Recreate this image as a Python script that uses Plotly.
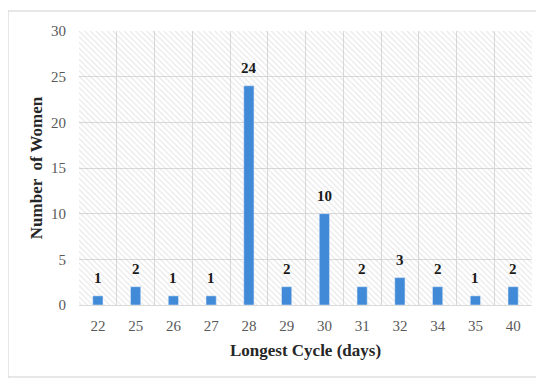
import plotly.graph_objects as go

categories = ["22", "25", "26", "27", "28", "29", "30", "31", "32", "34", "35", "40"]
women = [1, 2, 1, 1, 24, 2, 10, 2, 3, 2, 1, 2]
y_ticks = [0, 5, 10, 15, 20, 25, 30]

SERIF = "Liberation Serif"
fig = go.Figure()

# hatched plot background (decoration) on base axes
fig.add_trace(go.Scatter(
    x=[0, 1, 1, 0, 0], y=[0, 0, 1, 1, 0], mode="lines",
    line=dict(width=0), fill="toself", fillcolor="rgba(0,0,0,0)",
    fillpattern=dict(shape="\\", fgcolor="#c8c8c8", bgcolor="rgba(0,0,0,0)",
                     size=4, solidity=0.25),
    hoverinfo="skip", showlegend=False, xaxis="x", yaxis="y"))

fig.add_trace(go.Bar(
    x=categories, y=women, marker_color="#418ad8", width=0.27,
    showlegend=False, xaxis="x2", yaxis="y2"))

# value labels above bars (category index positions)
for i, v in enumerate(women):
    fig.add_annotation(x=i, y=v, xref="x2", yref="y2", text=str(v),
                       showarrow=False, yanchor="bottom", yshift=8,
                       font=dict(family=SERIF, size=15, color="#1a1a1a", weight="bold"))

fig.update_layout(
    width=536, height=370,
    margin=dict(l=71, r=12, t=23, b=73, autoexpand=False),
    paper_bgcolor="white", plot_bgcolor="white",
    font=dict(family=SERIF, color="#595959", size=15),
    xaxis=dict(range=[0, 1], visible=False, fixedrange=True),
    yaxis=dict(range=[0, 1], visible=False, fixedrange=True),
    xaxis2=dict(overlaying="x", type="category", tickson="boundaries",
                categoryorder="array", categoryarray=categories,
                range=[-0.5, len(categories) - 0.5],
                showgrid=True, gridcolor="#d9d9d9", gridwidth=1,
                showline=True, linecolor="#d9d9d9", mirror=False,
                ticks="", ticklabelstandoff=7, automargin=False, tickangle=0,
                tickfont=dict(family=SERIF, size=15, color="#595959"),
                title=dict(text="Longest Cycle (days)", standoff=11,
                           font=dict(family=SERIF, size=17, color="#262626", weight="bold"))),
    yaxis2=dict(overlaying="y", range=[0, 30], tickvals=y_ticks,
                showgrid=True, gridcolor="#d9d9d9", gridwidth=1, zeroline=False,
                showline=False, ticks="", ticklabelstandoff=12, automargin=False,
                tickfont=dict(family=SERIF, size=15, color="#595959"),
                title=dict(text="Number  of Women", standoff=4,
                           font=dict(family=SERIF, size=17, color="#262626", weight="bold"))),
    shapes=[dict(type="rect", xref="paper", yref="paper",
                 x0=-71/453, x1=1.0 + 8/453, y0=-72/274, y1=1.0 + 20/274,
                 line=dict(color="#cfcfcf", width=1), layer="below")],
)

fig.write_html("out.html")
